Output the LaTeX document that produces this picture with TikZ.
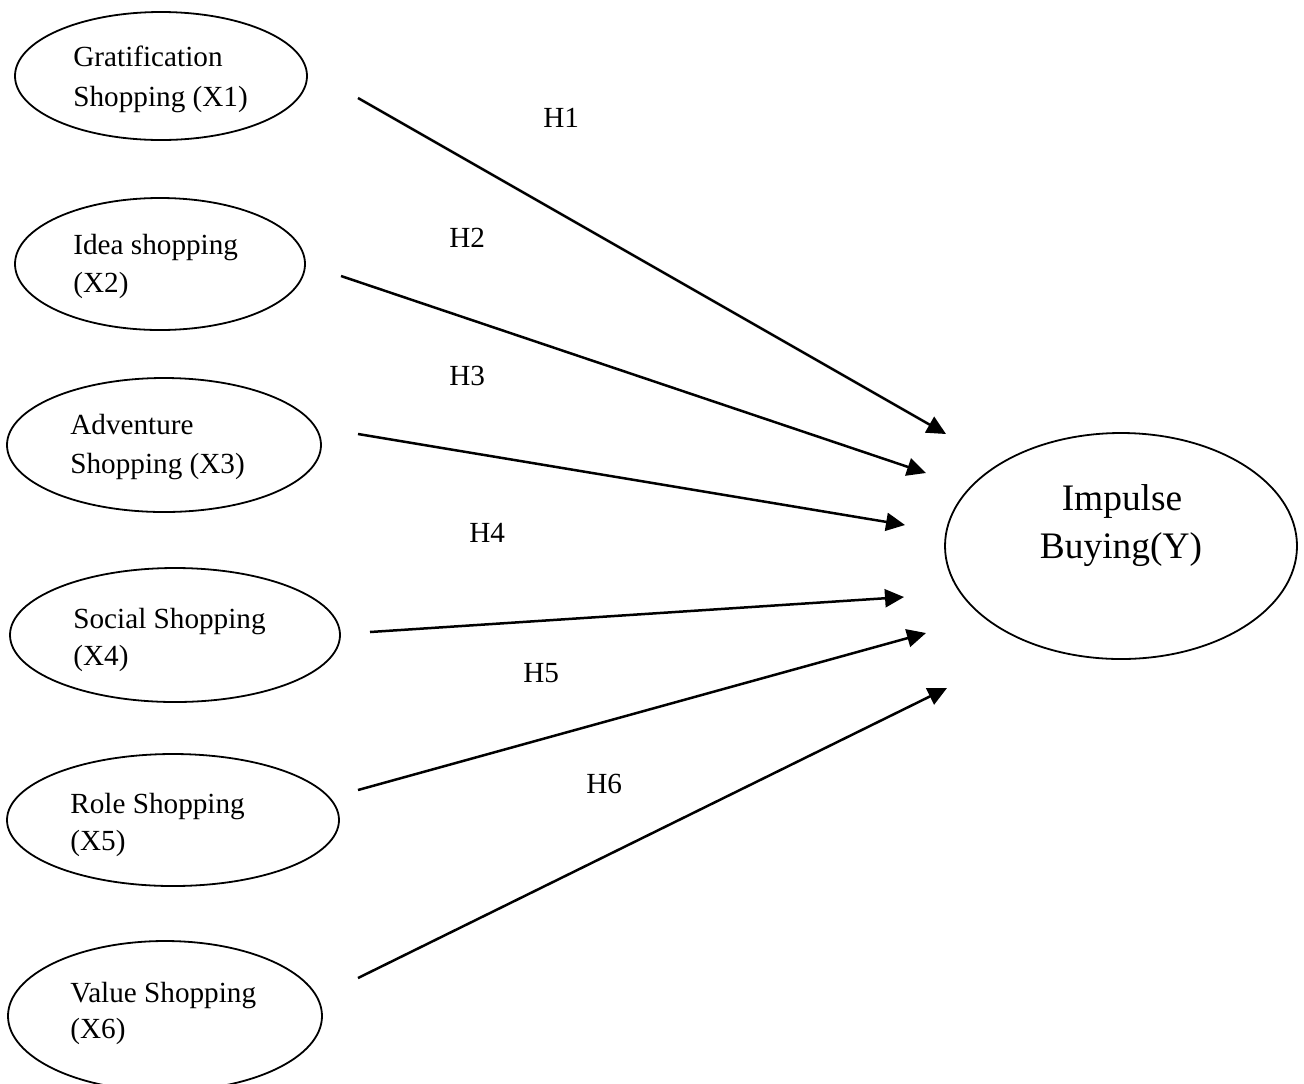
\documentclass[tikz,border=0pt]{standalone}
\usepackage{fontspec}
\setmainfont{Liberation Serif}
\usetikzlibrary{shapes.geometric,arrows.meta}
\tikzset{
  var/.style={ellipse, draw, line width=0.9pt, inner sep=0pt},
  txt/.style={anchor=base west, inner sep=0pt, font=\fontsize{14.6}{18}\selectfont},
  bigtxt/.style={anchor=base, inner sep=0pt, font=\fontsize{18.7}{23}\selectfont},
  hyp/.style={-{Triangle[length=9.5pt,width=9pt]}, line width=1.25pt}
}
\begin{document}
\begin{tikzpicture}[x=0.5pt,y=-0.5pt]
\useasboundingbox (0,0) rectangle (1304,1083);
% ellipses
\node[var, minimum width=146pt, minimum height=64pt] (x1) at (161,76) {};
\node[var, minimum width=145pt, minimum height=66pt] (x2) at (160,264) {};
\node[var, minimum width=157pt, minimum height=67pt] (x3) at (164,445) {};
\node[var, minimum width=165pt, minimum height=67pt] (x4) at (175,635) {};
\node[var, minimum width=166pt, minimum height=66pt] (x5) at (173,820) {};
\node[var, minimum width=157pt, minimum height=75pt] (x6) at (165,1016) {};
\node[var, minimum width=176pt, minimum height=113pt] (y) at (1121,546) {};
% texts
\node[txt] (t1a) at (73,66) {Gratification};
\node[txt] (t1b) at (73,106) {Shopping (X1)};
\node[txt] (t2a) at (73,254) {Idea shopping};
\node[txt] (t2b) at (73,292) {(X2)};
\node[txt] (t3a) at (70,434) {Adventure};
\node[txt] (t3b) at (70,473) {Shopping (X3)};
\node[txt] (t4a) at (73,628) {Social Shopping};
\node[txt] (t4b) at (73,665) {(X4)};
\node[txt] (t5a) at (70,813) {Role Shopping};
\node[txt] (t5b) at (70,850) {(X5)};
\node[txt] (t6a) at (70,1002) {Value Shopping};
\node[txt] (t6b) at (70,1038) {(X6)};
\node[bigtxt] (ya) at (1122,510) {Impulse};
\node[bigtxt] (yb) at (1121,558) {Buying(Y)};
% hypothesis labels
\node[txt] (h1) at (543,127) {H1};
\node[txt] (h2) at (449,247) {H2};
\node[txt] (h3) at (449,385) {H3};
\node[txt] (h4) at (469,542) {H4};
\node[txt] (h5) at (523,682) {H5};
\node[txt] (h6) at (586,793) {H6};
% arrow ends
\coordinate (s1) at (358,98);  \coordinate (e1) at (946,434);
\coordinate (s2) at (341,276); \coordinate (e2) at (926,473);
\coordinate (s3) at (358,434); \coordinate (e3) at (905,525);
\coordinate (s4) at (370,632); \coordinate (e4) at (904,597);
\coordinate (s5) at (358,790); \coordinate (e5) at (926,633);
\coordinate (s6) at (358,978); \coordinate (e6) at (947,688);
\draw[hyp] (s1) -- (e1);
\draw[hyp] (s2) -- (e2);
\draw[hyp] (s3) -- (e3);
\draw[hyp] (s4) -- (e4);
\draw[hyp] (s5) -- (e5);
\draw[hyp] (s6) -- (e6);
\end{tikzpicture}
\end{document}
